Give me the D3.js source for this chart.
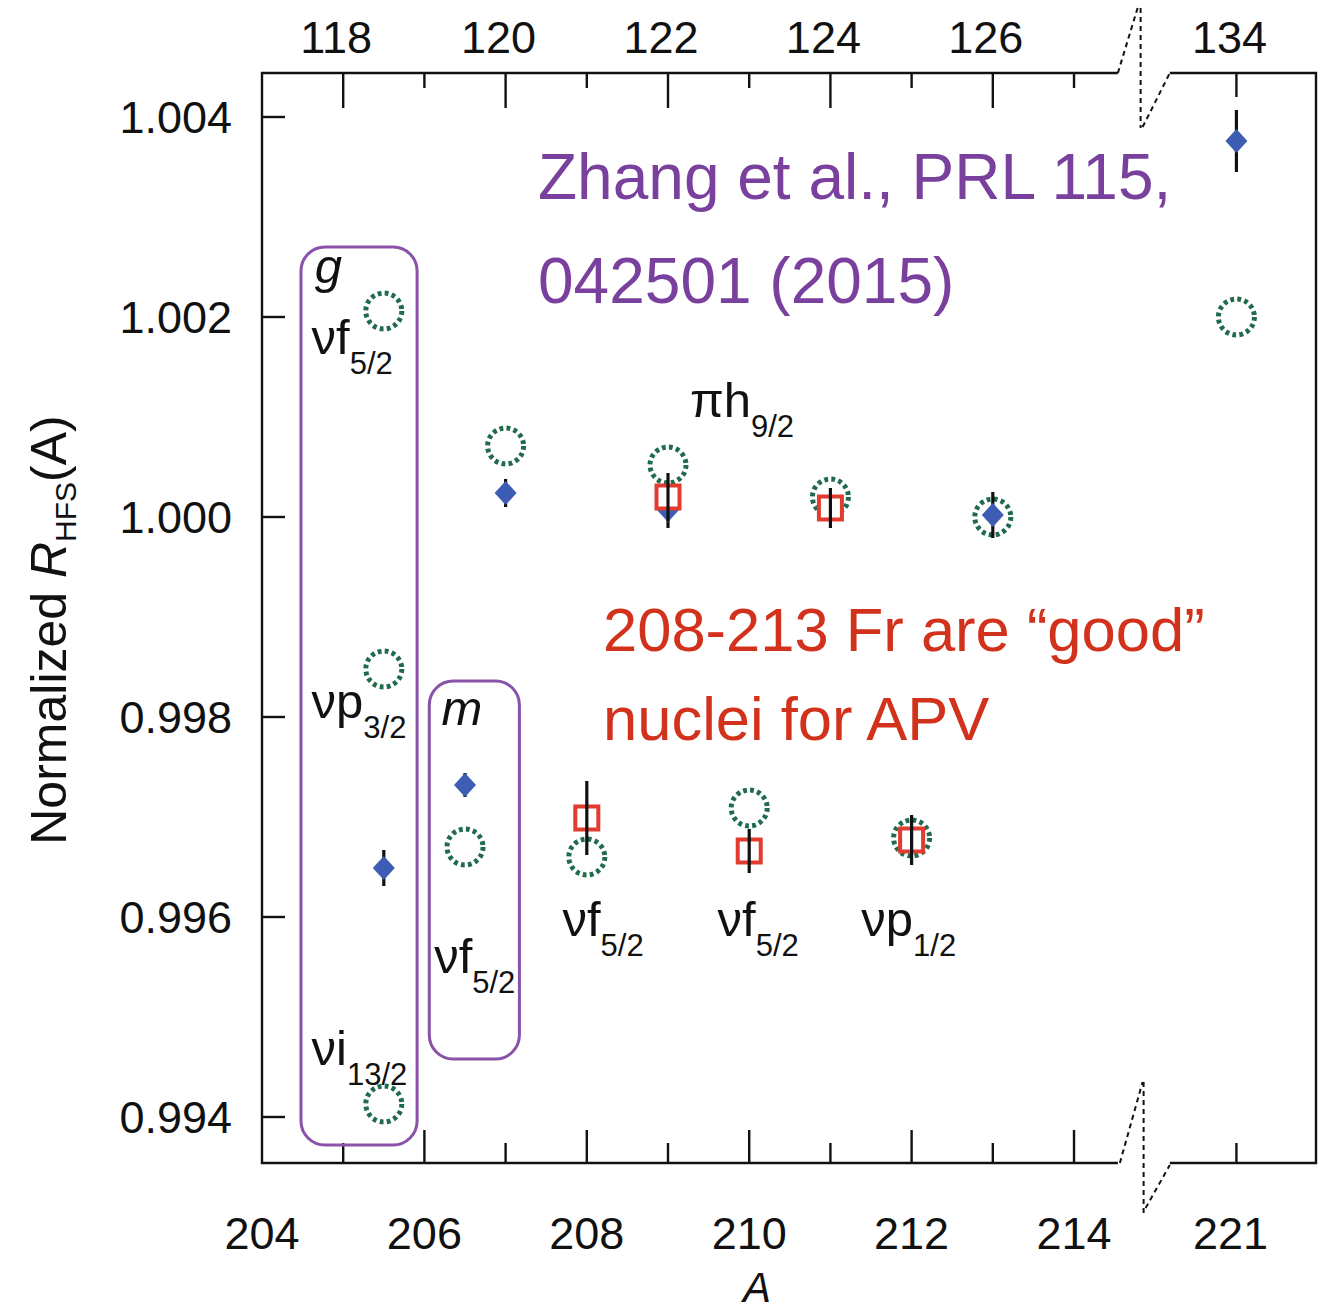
<!DOCTYPE html>
<html>
<head>
<meta charset="utf-8">
<script src="https://cdn.jsdelivr.net/npm/d3@7"></script>
<style>
  html, body { margin: 0; padding: 0; background: #fff; }
  svg { display: block; }
  text { font-family: "Liberation Sans", Arial, Helvetica, sans-serif; }
</style>
</head>
<body>
<svg id="chart" width="1321" height="1313"></svg>
<script>
// Mass number A (206g plotted at 205.5, 206m at 206.5); 221 sits beyond the axis break
const diamondA   = [205.5, 206.5, 207, 209, 213, 221];
const diamondVal = [0.99649, 0.99732, 1.00024, 1.00007, 1.00002, 1.00376];
const diamondErr = [0.00018, 0.00012, 0.00014, 0.00018, 0.00023, 0.00031];

const squareA   = [208, 209, 210, 211, 212];
const squareVal = [0.99699, 1.00020, 0.99666, 1.00009, 0.99677];
const squareErr = [0.00037, 0.00024, 0.00022, 0.00020, 0.00025];

const circleA   = [205.5, 205.5, 205.5, 206.5, 207, 208, 209, 210, 211, 212, 213, 221];
const circleVal = [1.00206, 0.99848, 0.99413, 0.99670, 1.00071, 0.99660, 1.00052, 0.99709, 1.00020, 0.99679, 1.00000, 1.00200];

// Tick values
const bottomMajor = [206, 208, 210, 212, 214];
const bottomMinor = [205, 207, 209, 211, 213, 221];
const bottomLabels = [204, 206, 208, 210, 212, 214, 221];
const topMajor = [118, 120, 122, 124, 126];
const topMinor = [119, 121, 123, 125, 127];
const topLabels = [118, 120, 122, 124, 126, 134];
const topEnd = [134];
const yTicks = [0.994, 0.996, 0.998, 1.000, 1.002, 1.004];

// Orbital configuration labels: [A, value, main text, subscript, italic]
const orbitalLabels = [
  [204.65, 1.00234, "g", "", true],
  [204.61, 1.00163, "νf", "5/2", false],
  [204.61, 0.99799, "νp", "3/2", false],
  [204.61, 0.99452, "νi", "13/2", false],
  [206.21, 0.99792, "m", "", true],
  [206.12, 0.99544, "νf", "5/2", false],
  [207.70, 0.99581, "νf", "5/2", false],
  [209.61, 0.99581, "νf", "5/2", false],
  [211.38, 0.99581, "νp", "1/2", false],
  [209.27, 1.00100, "πh", "9/2", false]
];

// Grouping boxes: [A left, A right, value top, value bottom]
const groupBoxes = [
  [204.48, 205.91, 1.00270, 0.99372],
  [206.06, 207.17, 0.99836, 0.99458]
];

const Z = 87;               // neutron number N = A - Z
const breakShift = 5;       // A values past the break are drawn 5 units closer

const svg = d3.select("#chart");
const padL = 262, padR = 1316, padT = 73, padB = 1163;

const x = d3.scaleLinear().domain([204, 216.98]).range([padL, padR]);
const y = d3.scaleLinear().domain([0.99354, 1.00444]).range([padB, padT]);
const xA = a => a > 215 ? x(a - breakShift) : x(a);
const xN = n => xA(n + Z);

const ink = "#111";
const axisW = 2.4;

// Axis frame
const segL = 214.54, segR = 215.18;
svg.append("path")
  .attr("d", `M${x(segL)},${padT}H${padL}V${padB}H${x(segL)}M${x(segR)},${padB}H${padR}V${padT}H${x(segR)}`)
  .attr("fill", "none").attr("stroke", ink).attr("stroke-width", axisW);

// Axis break marks
const xb = x(214.82);
const brk = d3.path();
brk.moveTo(x(segL), padT); brk.lineTo(xb - 3, padT - 65);
brk.moveTo(xb, padT - 65); brk.lineTo(xb, padT + 55);
brk.moveTo(xb + 2, padT + 54); brk.lineTo(x(segR), padT);
brk.moveTo(x(segL) + 2, padB); brk.lineTo(xb + 2, padB - 81);
brk.moveTo(xb + 3, padB - 81); brk.lineTo(xb + 3, padB + 54);
brk.moveTo(xb + 5, padB + 45); brk.lineTo(x(segR), padB + 2);
svg.append("path").attr("d", brk.toString())
  .attr("fill", "none").attr("stroke", ink).attr("stroke-width", 2)
  .attr("stroke-dasharray", "5 4");

// Ticks
const tickG = svg.append("g").attr("stroke", ink).attr("stroke-width", axisW);
tickG.selectAll(".bM").data(bottomMajor).join("line")
  .attr("x1", d => xA(d)).attr("x2", d => xA(d)).attr("y1", padB).attr("y2", padB - 33);
tickG.selectAll(".bm").data(bottomMinor).join("line")
  .attr("x1", d => xA(d)).attr("x2", d => xA(d)).attr("y1", padB).attr("y2", padB - 20);
tickG.selectAll(".tM").data(topMajor).join("line")
  .attr("x1", d => xN(d)).attr("x2", d => xN(d)).attr("y1", padT).attr("y2", padT + 35);
tickG.selectAll(".tm").data(topMinor).join("line")
  .attr("x1", d => xN(d)).attr("x2", d => xN(d)).attr("y1", padT).attr("y2", padT + 15);
tickG.selectAll(".te").data(topEnd).join("line")
  .attr("x1", d => xN(d)).attr("x2", d => xN(d)).attr("y1", padT).attr("y2", padT + 24);
tickG.selectAll(".yt").data(yTicks).join("line")
  .attr("x1", padL).attr("x2", padL + 23).attr("y1", d => y(d)).attr("y2", d => y(d));

// Tick labels
const tickFont = 45;
svg.append("g").selectAll("text").data(bottomLabels).join("text")
  .attr("x", d => xA(d) - (d > 215 ? 6 : 0)).attr("y", 1249)
  .attr("text-anchor", "middle").attr("font-size", tickFont).attr("fill", ink)
  .text(d => d);
svg.append("g").selectAll("text").data(topLabels).join("text")
  .attr("x", d => xN(d) - 7).attr("y", 53)
  .attr("text-anchor", "middle").attr("font-size", tickFont).attr("fill", ink)
  .text(d => d);
svg.append("g").selectAll("text").data(yTicks).join("text")
  .attr("x", 232).attr("y", d => y(d) + 16)
  .attr("text-anchor", "end").attr("font-size", tickFont).attr("fill", ink)
  .text(d => d3.format(".3f")(d));

// Axis titles
svg.append("text")
  .attr("x", 757).attr("y", 1302)
  .attr("text-anchor", "middle").attr("font-size", 42).attr("font-style", "italic").attr("fill", ink)
  .text("A");
const yTitle = svg.append("text")
  .attr("transform", "translate(66,630) rotate(-90)")
  .attr("text-anchor", "middle").attr("font-size", 50).attr("fill", ink);
yTitle.append("tspan").text("Normalized ");
yTitle.append("tspan").attr("font-style", "italic").text("R");
yTitle.append("tspan").attr("font-size", 30).attr("dy", 10).text("HFS");
yTitle.append("tspan").attr("dy", -10).text("(A)");

// Grouping boxes
svg.append("g").selectAll("rect").data(groupBoxes).join("rect")
  .attr("x", d => x(d[0])).attr("y", d => y(d[2]))
  .attr("width", d => x(d[1]) - x(d[0])).attr("height", d => y(d[3]) - y(d[2]))
  .attr("rx", 24).attr("ry", 24)
  .attr("fill", "none").attr("stroke", "#8a52a8").attr("stroke-width", 3);

// Orbital labels
const labG = svg.append("g").attr("fill", ink);
orbitalLabels.forEach(d => {
  const t = labG.append("text")
    .attr("x", xA(d[0])).attr("y", y(d[1]))
    .attr("font-size", 49);
  if (d[4]) t.attr("font-style", "italic");
  t.append("tspan").text(d[2]);
  if (d[3]) t.append("tspan").attr("font-size", 31).attr("dy", 20).text(d[3]);
});

// Theory: green dotted circles
svg.append("g").selectAll("circle").data(circleA.map((a, i) => [a, circleVal[i]])).join("circle")
  .attr("cx", d => xA(d[0])).attr("cy", d => y(d[1])).attr("r", 18)
  .attr("fill", "none").attr("stroke", "#1f6b4b").attr("stroke-width", 5)
  .attr("stroke-dasharray", "3.8 3.3");

// Blue diamonds with error bars
const diamonds = diamondA.map((a, i) => [a, diamondVal[i], diamondErr[i]]);
svg.append("g").selectAll("line").data(diamonds).join("line")
  .attr("x1", d => xA(d[0])).attr("x2", d => xA(d[0]))
  .attr("y1", d => y(d[1] + d[2])).attr("y2", d => y(d[1] - d[2]))
  .attr("stroke", ink).attr("stroke-width", 3.2);
svg.append("g").selectAll("path").data(diamonds).join("path")
  .attr("transform", d => `translate(${xA(d[0])},${y(d[1])})`)
  .attr("d", "M0,-12L11,0L0,12L-11,0Z")
  .attr("fill", "#3d5db4");

// Red squares with error bars
const squares = squareA.map((a, i) => [a, squareVal[i], squareErr[i]]);
svg.append("g").selectAll("rect").data(squares).join("rect")
  .attr("x", d => xA(d[0]) - 11.5).attr("y", d => y(d[1]) - 11.5)
  .attr("width", 23).attr("height", 23)
  .attr("fill", "#fff").attr("stroke", "#e23b30").attr("stroke-width", 4);
svg.append("g").selectAll("line").data(squares).join("line")
  .attr("x1", d => xA(d[0])).attr("x2", d => xA(d[0]))
  .attr("y1", d => y(d[1] + d[2])).attr("y2", d => y(d[1] - d[2]))
  .attr("stroke", ink).attr("stroke-width", 3.2);

// Notes
const purple = svg.append("text").attr("font-size", 64).attr("fill", "#7a409d");
purple.append("tspan").attr("x", 538).attr("y", 199).text("Zhang et al., PRL 115,");
purple.append("tspan").attr("x", 538).attr("y", 303).text("042501 (2015)");
const red = svg.append("text").attr("font-size", 61.5).attr("fill", "#d2311c");
red.append("tspan").attr("x", 603).attr("y", 651).text("208-213 Fr are “good”");
red.append("tspan").attr("x", 603).attr("y", 740).text("nuclei for APV");
</script>
</body>
</html>
